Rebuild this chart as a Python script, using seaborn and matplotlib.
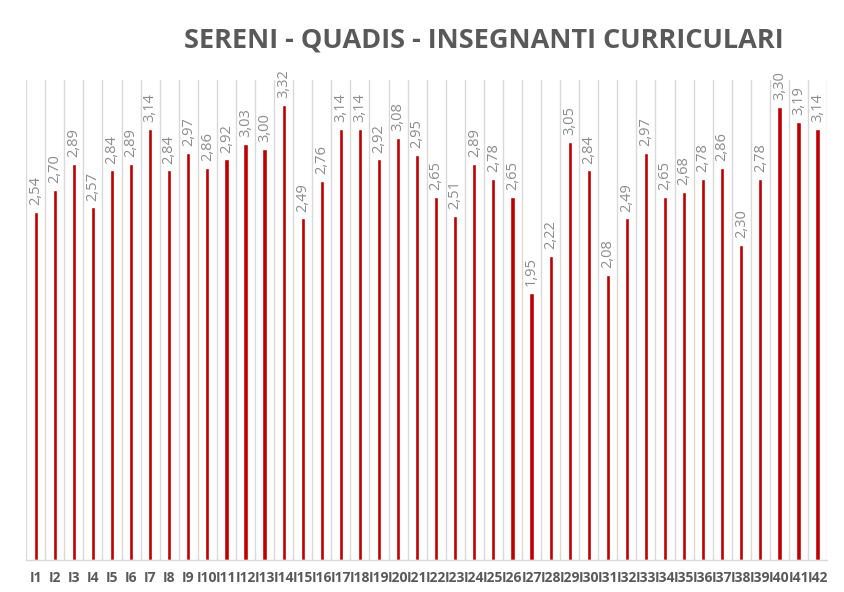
import matplotlib
matplotlib.use("Agg")
import matplotlib.pyplot as plt
from matplotlib.ticker import FixedLocator
import seaborn as sns
import pandas as pd

items = [f"I{i}" for i in range(1, 43)]
scores = [2.54, 2.70, 2.89, 2.57, 2.84, 2.89, 3.14, 2.84, 2.97, 2.86,
          2.92, 3.03, 3.00, 3.32, 2.49, 2.76, 3.14, 3.14, 2.92, 3.08,
          2.95, 2.65, 2.51, 2.89, 2.78, 2.65, 1.95, 2.22, 3.05, 2.84,
          2.08, 2.49, 2.97, 2.65, 2.68, 2.78, 2.86, 2.30, 2.78, 3.30,
          3.19, 3.14]
title = "SERENI - QUADIS - INSEGNANTI CURRICULARI"

df = pd.DataFrame({"item": items, "score": scores})

sns.set_style("white")
plt.rcParams["font.family"] = ["Open Sans", "DejaVu Sans"]

fig = plt.figure(figsize=(8.44, 5.92), dpi=100)
ax = fig.add_axes([0.031, 0.054, 0.949, 0.811])

sns.barplot(data=df, x="item", y="score", color="#c00000", saturation=1,
            width=0.22, ax=ax)

ax.set_ylim(0, 3.5)
ax.set_xlim(-0.5, len(items) - 0.5)

# vertical separators between categories
ax.xaxis.set_minor_locator(FixedLocator([i - 0.5 for i in range(len(items) + 1)]))
ax.grid(which="minor", axis="x", color="#d9d9d9", linewidth=1)
ax.set_axisbelow(True)

for s in ["top", "right", "left"]:
    ax.spines[s].set_visible(False)
ax.spines["bottom"].set_color("#d9d9d9")
ax.spines["bottom"].set_linewidth(1)

ax.set_yticks([])
ax.set_xlabel("")
ax.set_ylabel("")
ax.tick_params(axis="x", which="both", length=0, pad=8)
for lbl in ax.get_xticklabels():
    lbl.set_fontsize(10)
    lbl.set_fontweight("bold")
    lbl.set_color("#595959")

for i, v in enumerate(scores):
    ax.annotate(f"{v:.2f}".replace(".", ","), (i, v), xytext=(0, 5),
                textcoords="offset points", rotation=90, ha="center",
                va="bottom", fontsize=10.5, color="#8c8c8c")

fig.text(0.573, 0.932, title, ha="center", va="center", fontsize=19.5,
         fontweight="bold", color="#595959")

fig.savefig("out.png", dpi=100)
